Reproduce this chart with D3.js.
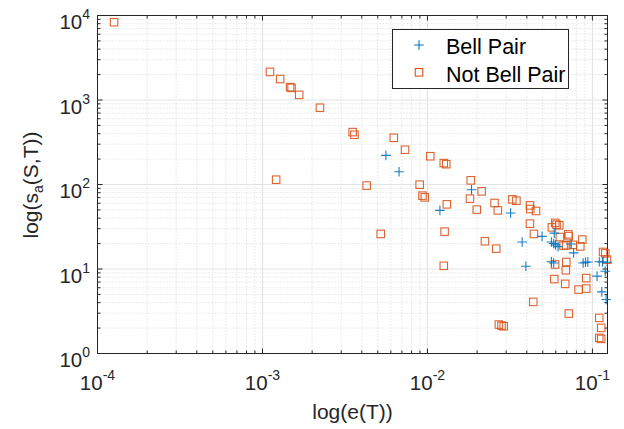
<!DOCTYPE html>
<html><head><meta charset="utf-8">
<script src="https://cdn.jsdelivr.net/npm/d3@7"></script>
<style>body{margin:0;background:#fff}svg{display:block;font-family:"Liberation Sans",Arial,Helvetica,sans-serif}</style>
</head><body><svg id="c" width="624" height="429"></svg>
<script>
// ---- data ----
const bellX = [5.60e-3, 6.73e-3, 1.85e-2, 1.19e-2, 3.19e-2, 4.95e-2, 3.75e-2, 3.95e-2, 5.64e-2, 5.82e-2,
  5.98e-2, 6.19e-2, 5.87e-2, 7.44e-2, 7.69e-2, 5.64e-2, 5.82e-2, 8.78e-2, 9.08e-2, 9.38e-2,
  0.110, 0.115, 0.1196, 0.1067, 0.114, 0.121, 0.123];
const bellY = [221, 141.7, 86.8, 49.4, 46.0, 24.3, 20.9, 10.8, 20.9, 20.0,
  19.3, 18.4, 26.6, 19.8, 15.5, 12.2, 11.8, 11.8, 12.0, 12.1,
  12.2, 12.1, 9.39, 8.24, 5.36, 4.35, 12.0];
const notBellX = [1.26e-4, 1.11e-3, 1.28e-3, 1.47e-3, 1.50e-3, 1.67e-3, 2.23e-3, 3.52e-3, 3.61e-3, 1.21e-3,
  6.25e-3, 7.31e-3, 1.04e-2, 1.256e-2, 1.30e-2, 4.28e-3, 8.97e-3, 9.33e-3, 9.63e-3, 1.83e-2,
  2.13e-2, 1.31e-2, 1.81e-2, 2.55e-2, 2.67e-2, 1.99e-2, 3.27e-2, 3.46e-2, 4.18e-2, 4.20e-2,
  4.55e-2, 4.18e-2, 4.42e-2, 5.21e-3, 1.27e-2, 2.23e-2, 2.61e-2, 1.256e-2, 5.68e-2, 5.95e-2,
  6.06e-2, 6.30e-2, 6.35e-2, 7.14e-2, 7.19e-2, 7.61e-2, 8.44e-2, 8.68e-2, 6.68e-2, 6.94e-2,
  5.94e-2, 6.94e-2, 6.90e-2, 5.87e-2, 9.17e-2, 6.84e-2, 8.24e-2, 9.17e-2, 0.116, 0.1196,
  0.1225, 4.38e-2, 7.19e-2, 0.110, 0.113, 2.71e-2, 2.81e-2, 2.90e-2, 0.110, 0.113];
const notBellY = [8340, 2150, 1770, 1420, 1390, 1150, 810, 417, 388, 114,
  357, 258, 216, 179, 174, 97, 99.5, 73.8, 70.4, 112,
  83, 58.2, 68, 60.4, 49.4, 50.4, 66.7, 64.3, 56.6, 51.3,
  48.6, 34.4, 26.0, 26.0, 27.7, 21.3, 17.4, 10.9, 31.1, 35.1,
  33.5, 32.9, 23.9, 25.7, 24.5, 19.3, 18.5, 22.3, 18.9, 19.1,
  11.3, 12.1, 9.66, 7.60, 7.80, 6.67, 5.71, 5.87, 15.9, 15.3,
  12.9, 4.08, 2.97, 2.64, 2.01, 2.20, 2.14, 2.10, 1.53, 1.49];
const xTickExps = [-4, -3, -2, -1];
const yTickExps = [0, 1, 2, 3, 4];
const legendLabels = ["Bell Pair", "Not Bell Pair"];
const xLabelText = "log(e(T))";

// ---- layout ----
const L = 97.5, R = 607.5, T = 15.5, B = 353.5;
const blue = "#0072BD", orange = "#D95319", axisCol = "#262626";
const svg = d3.select("#c");
svg.append("rect").attr("width", 624).attr("height", 429).attr("fill", "#fff");

const x = d3.scaleLog().domain([1e-4, 0.1234]).range([L, R]);
const y = d3.scaleLog().domain([1, 1e4]).range([B, T]);

// minor tick values
const xMinor = [], yMinor = [];
for (let e = -4; e <= -1; e++) for (let m = 2; m <= 9; m++) { const v = m * Math.pow(10, e); if (v < 0.1234) xMinor.push(v); }
for (let e = 0; e <= 3; e++) for (let m = 2; m <= 9; m++) yMinor.push(m * Math.pow(10, e));
const xMajor = xTickExps.map(e => Math.pow(10, e));
const yMajor = yTickExps.map(e => Math.pow(10, e));

// grid
const g = svg.append("g");
g.selectAll(".xmin").data(xMinor).join("line")
  .attr("x1", d => x(d)).attr("x2", d => x(d)).attr("y1", T).attr("y2", B)
  .attr("stroke", "#cfcfcf").attr("stroke-width", 0.8).attr("stroke-dasharray", "1,2");
g.selectAll(".ymin").data(yMinor).join("line")
  .attr("y1", d => y(d)).attr("y2", d => y(d)).attr("x1", L).attr("x2", R)
  .attr("stroke", "#cfcfcf").attr("stroke-width", 0.8).attr("stroke-dasharray", "1,2");
g.selectAll(".xmaj").data(xMajor.filter(v => v > 1e-4)).join("line")
  .attr("x1", d => x(d)).attr("x2", d => x(d)).attr("y1", T).attr("y2", B)
  .attr("stroke", "#e3e3e3").attr("stroke-width", 1.2);
g.selectAll(".ymaj").data(yMajor.filter(v => v > 1 && v < 1e4)).join("line")
  .attr("y1", d => y(d)).attr("y2", d => y(d)).attr("x1", L).attr("x2", R)
  .attr("stroke", "#e3e3e3").attr("stroke-width", 1.2);

// axes box and ticks
const ax = svg.append("g").attr("stroke", axisCol).attr("stroke-width", 1);
ax.append("rect").attr("x", L).attr("y", T).attr("width", R - L).attr("height", B - T).attr("fill", "none");
function xt(vals, len) {
  vals.forEach(v => {
    ax.append("line").attr("x1", x(v)).attr("x2", x(v)).attr("y1", B).attr("y2", B - len);
    ax.append("line").attr("x1", x(v)).attr("x2", x(v)).attr("y1", T).attr("y2", T + len);
  });
}
function yt(vals, len) {
  vals.forEach(v => {
    ax.append("line").attr("y1", y(v)).attr("y2", y(v)).attr("x1", L).attr("x2", L + len);
    ax.append("line").attr("y1", y(v)).attr("y2", y(v)).attr("x1", R).attr("x2", R - len);
  });
}
xt(xMajor, 5); xt(xMinor, 3); yt(yMajor, 5); yt(yMinor, 3);

// tick labels
const xl = svg.append("g").attr("fill", axisCol).attr("font-size", 20.5);
xTickExps.forEach(e => {
  const t = xl.append("text").attr("x", x(Math.pow(10, e))).attr("y", 390).attr("text-anchor", "middle");
  t.append("tspan").text("10");
  t.append("tspan").attr("font-size", 14).attr("dy", -10).text(String(e));
});
yTickExps.forEach(e => {
  const t = xl.append("text").attr("x", 90).attr("y", y(Math.pow(10, e)) + 13.5).attr("text-anchor", "end");
  t.append("tspan").text("10");
  t.append("tspan").attr("font-size", 14).attr("dy", -10).text(String(e));
});

// axis labels
svg.append("text").attr("x", 352.5).attr("y", 419).attr("text-anchor", "middle")
  .attr("font-size", 21).attr("fill", axisCol).text(xLabelText);
const yl = svg.append("text").attr("transform", "translate(38,185) rotate(-90)")
  .attr("text-anchor", "middle").attr("font-size", 21).attr("fill", axisCol);
yl.append("tspan").text("log(s");
yl.append("tspan").attr("font-size", 14).attr("dy", 5).text("a");
yl.append("tspan").attr("dy", -5).text("(S,T))");

// data marks
const sq = 7.5;
svg.append("g").selectAll("rect").data(notBellX.map((v, i) => [v, notBellY[i]])).join("rect")
  .attr("x", d => x(d[0]) - sq / 2).attr("y", d => y(d[1]) - sq / 2)
  .attr("width", sq).attr("height", sq).attr("fill", "none")
  .attr("stroke", orange).attr("stroke-width", 1.1).attr("stroke-opacity", 0.9);
const ph = 4.8;
svg.append("g").selectAll("path").data(bellX.map((v, i) => [v, bellY[i]])).join("path")
  .attr("d", d => { const cx = x(d[0]), cy = y(d[1]);
    return `M${cx - ph},${cy}H${cx + ph}M${cx},${cy - ph}V${cy + ph}`; })
  .attr("fill", "none").attr("stroke", blue).attr("stroke-width", 1.1).attr("stroke-opacity", 0.9);

// legend
const lg = svg.append("g");
lg.append("rect").attr("x", 392.5).attr("y", 29.5).attr("width", 176).attr("height", 59)
  .attr("fill", "#fff").attr("stroke", axisCol).attr("stroke-width", 1);
lg.append("path").attr("d", `M${419 - ph},45H${419 + ph}M419,${45 - ph}V${45 + ph}`)
  .attr("stroke", blue).attr("stroke-width", 1.1).attr("fill", "none");
lg.append("rect").attr("x", 419 - sq / 2).attr("y", 72.3 - sq / 2).attr("width", sq).attr("height", sq)
  .attr("fill", "none").attr("stroke", orange).attr("stroke-width", 1.1);
lg.selectAll("text").data(legendLabels).join("text")
  .attr("x", 446).attr("y", (d, i) => [54, 81.7][i]).attr("font-size", 21.5).attr("fill", "#000").text(d => d);
</script></body></html>
